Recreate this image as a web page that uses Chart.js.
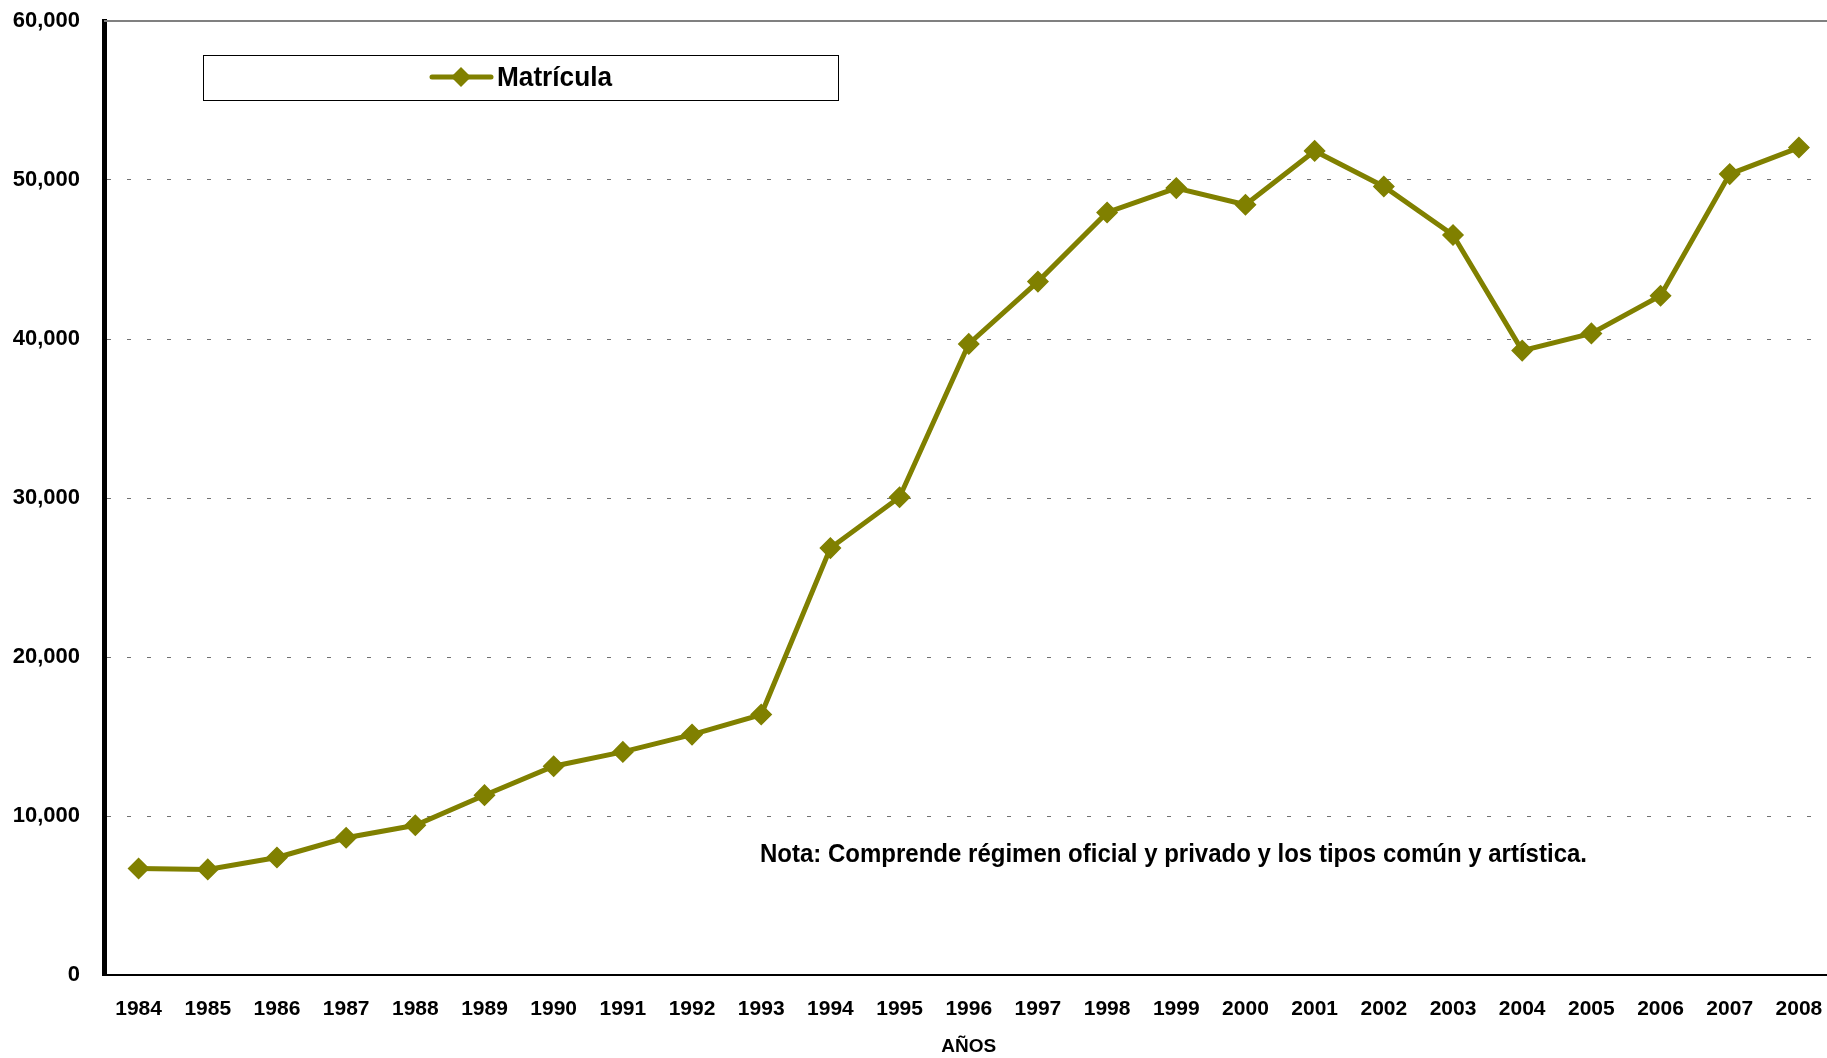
<!DOCTYPE html>
<html>
<head>
<meta charset="utf-8">
<script src="https://cdn.jsdelivr.net/npm/chart.js@4.4.1/dist/chart.umd.min.js"></script>
<style>
    html, body { margin: 0; padding: 0; background: #ffffff; overflow: hidden; }
    #wrap { width: 1845px; height: 1058px; }
</style>
</head>
<body>
<div id="wrap"><canvas id="matricula-chart"></canvas></div>
<script>
// Datos
const years = ['1984', '1985', '1986', '1987', '1988', '1989', '1990', '1991', '1992', '1993',
    '1994', '1995', '1996', '1997', '1998', '1999', '2000', '2001', '2002', '2003',
    '2004', '2005', '2006', '2007', '2008'];
const matricula = [6700, 6640, 7390, 8630, 9420, 11310, 13130, 14030, 15120, 16380,
    26850, 30050, 39690, 43610, 47960, 49490, 48440, 51830, 49590, 46540,
    39270, 40350, 42720, 50370, 52040];
const yTicks = [0, 10000, 20000, 30000, 40000, 50000, 60000];
const seriesLabel = 'Matrícula';
const axisTitle = 'AÑOS';
const note = 'Nota: Comprende régimen oficial y privado y los tipos común y artística.';

const olive = '#808000';
const narrowFont = "'Liberation Sans Narrow', 'Arial Narrow', 'Liberation Sans', Arial, sans-serif";
const baseFont = "'Liberation Sans', Arial, sans-serif";

// squeeze text to a given width (the original uses a condensed face)
function fitText(ctx, text, x, y, width) {
    const w = ctx.measureText(text).width;
    ctx.save();
    ctx.translate(x, y);
    ctx.scale(width / w, 1);
    ctx.fillText(text, 0, 0);
    ctx.restore();
}

const extras = {
    id: 'extras',
    afterDraw(chart) {
        const ctx = chart.ctx;
        const area = chart.chartArea;
        ctx.save();

        // top frame line
        ctx.strokeStyle = '#808080';
        ctx.lineWidth = 2;
        ctx.beginPath();
        ctx.moveTo(area.left, area.top);
        ctx.lineTo(area.right, area.top);
        ctx.stroke();

        // legend box
        const bx = area.left + 99, by = area.top + 34, bw = 635, bh = 45;
        ctx.fillStyle = '#ffffff';
        ctx.fillRect(bx, by, bw, bh);
        ctx.strokeStyle = '#000000';
        ctx.lineWidth = 1;
        ctx.strokeRect(bx + 0.5, by + 0.5, bw, bh);

        const ly = by + 22;
        ctx.strokeStyle = olive;
        ctx.lineWidth = 5;
        ctx.lineCap = 'round';
        ctx.beginPath();
        ctx.moveTo(bx + 229, ly);
        ctx.lineTo(bx + 288, ly);
        ctx.stroke();
        const mx = bx + 258, r = 10;
        ctx.fillStyle = olive;
        ctx.beginPath();
        ctx.moveTo(mx, ly - r);
        ctx.lineTo(mx + r, ly);
        ctx.lineTo(mx, ly + r);
        ctx.lineTo(mx - r, ly);
        ctx.closePath();
        ctx.fill();

        ctx.fillStyle = '#000000';
        ctx.font = 'bold 28px ' + narrowFont;
        ctx.textBaseline = 'middle';
        ctx.textAlign = 'left';
        fitText(ctx, seriesLabel, bx + 294, ly + 1, 115);

        // note
        ctx.font = 'bold 25px ' + narrowFont;
        fitText(ctx, note, area.left + 656, area.top + 834, 827);

        ctx.restore();
    }
};

const ctx = document.getElementById('matricula-chart').getContext('2d');

const matriculaChart = new Chart(ctx, {
    type: 'line',
    data: {
        labels: years,
        datasets: [
            {
                label: seriesLabel,
                data: matricula,
                borderColor: olive,
                backgroundColor: olive,
                borderWidth: 5,
                pointStyle: 'rectRot',
                pointRadius: 10,
                pointBorderWidth: 1.5,
                pointHoverRadius: 10,
                tension: 0
            }
        ]
    },
    options: {
        responsive: true,
        maintainAspectRatio: false,
        animation: false,
        layout: {
            padding: { top: 0, right: 8, left: 0, bottom: 0 }
        },
        plugins: {
            legend: { display: false },
            tooltip: { enabled: false }
        },
        scales: {
            x: {
                offset: true,
                grid: { display: false, drawTicks: false },
                border: { color: '#000000', width: 2 },
                ticks: {
                    color: '#000000',
                    padding: 22,
                    maxRotation: 0,
                    autoSkip: false,
                    font: { family: baseFont, size: 21, weight: 'bold' }
                },
                title: {
                    display: true,
                    text: axisTitle,
                    color: '#000000',
                    padding: { top: 4, bottom: 0 },
                    font: { family: baseFont, size: 19, weight: 'bold' }
                },
                afterFit: function(scale) {
                    scale.height = 83;
                }
            },
            y: {
                min: 0,
                max: 60000,
                afterBuildTicks: function(scale) {
                    scale.ticks = yTicks.map(v => ({ value: v }));
                },
                grid: {
                    color: '#707070',
                    lineWidth: 1,
                    drawTicks: false
                },
                border: { color: '#000000', width: 5, dash: [4, 16] },
                ticks: {
                    color: '#000000',
                    padding: 24,
                    font: { family: baseFont, size: 22, weight: 'bold' },
                    callback: function(value) {
                        return value.toLocaleString('en-US');
                    }
                },
                afterFit: function(scale) {
                    scale.width = 104;
                    scale.paddingTop = 21;
                    scale.paddingBottom = 0;
                }
            }
        }
    },
    plugins: [extras]
});
</script>
</body>
</html>
